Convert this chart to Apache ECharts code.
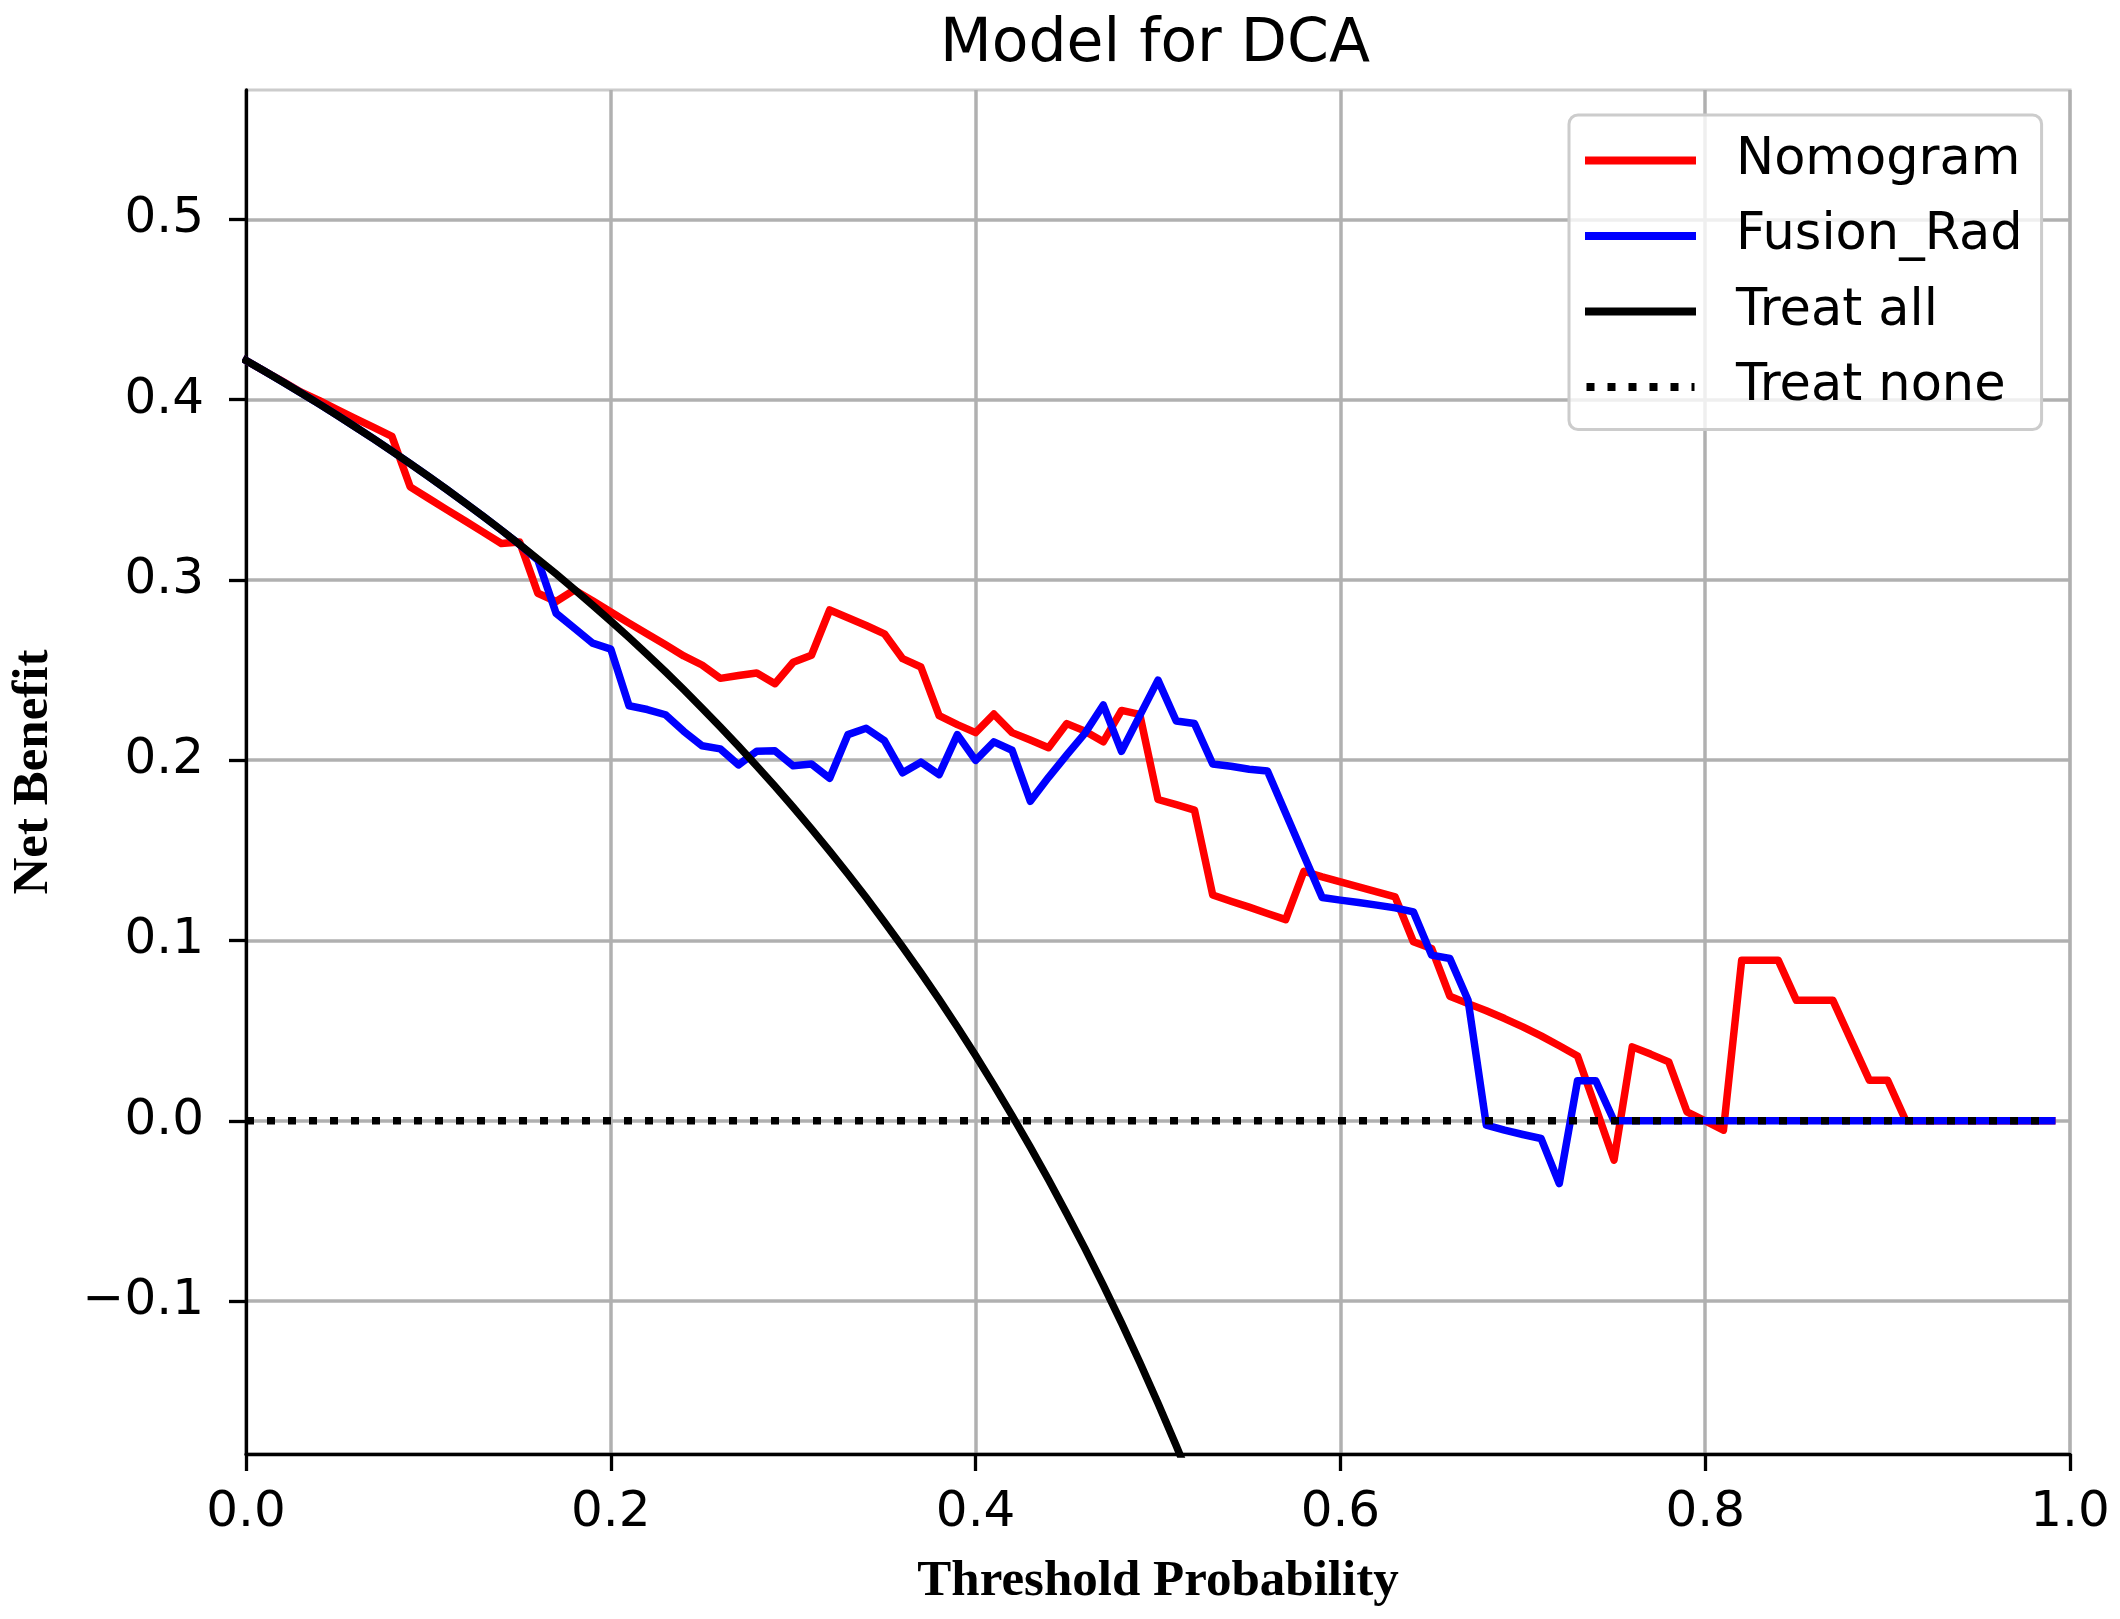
<!DOCTYPE html>
<html>
<head>
<meta charset="utf-8">
<script src="https://cdn.jsdelivr.net/npm/echarts@6/dist/echarts.min.js"></script>
<style>
  html, body { margin: 0; padding: 0; background: #fff; }
  #chart { width: 2120px; height: 1619px; }
</style>
</head>
<body>
<div id="chart"></div>
<script>
var dom = document.getElementById("chart");
var myChart = echarts.init(dom, null, {renderer: 'canvas'});

// threshold probabilities (x)
var thresholds = [
    0.00, 0.01, 0.02, 0.03, 0.04, 0.05, 0.06, 0.07, 0.08, 0.09,
    0.10, 0.11, 0.12, 0.13, 0.14, 0.15, 0.16, 0.17, 0.18, 0.19,
    0.20, 0.21, 0.22, 0.23, 0.24, 0.25, 0.26, 0.27, 0.28, 0.29,
    0.30, 0.31, 0.32, 0.33, 0.34, 0.35, 0.36, 0.37, 0.38, 0.39,
    0.40, 0.41, 0.42, 0.43, 0.44, 0.45, 0.46, 0.47, 0.48, 0.49,
    0.50, 0.51, 0.52, 0.53, 0.54, 0.55, 0.56, 0.57, 0.58, 0.59,
    0.60, 0.61, 0.62, 0.63, 0.64, 0.65, 0.66, 0.67, 0.68, 0.69,
    0.70, 0.71, 0.72, 0.73, 0.74, 0.75, 0.76, 0.77, 0.78, 0.79,
    0.80, 0.81, 0.82, 0.83, 0.84, 0.85, 0.86, 0.87, 0.88, 0.89,
    0.90, 0.91, 0.92, 0.93, 0.94, 0.95, 0.96, 0.97, 0.98, 0.99
];

var nomogram = [
    0.4217, 0.4159, 0.4102, 0.4042, 0.3996, 0.3944, 0.3894, 0.3846, 0.3796, 0.3516,
    0.3453, 0.3390, 0.3328, 0.3265, 0.3202, 0.3210, 0.2926, 0.2880, 0.2944, 0.2885,
    0.2822, 0.2760, 0.2700, 0.2640, 0.2578, 0.2528, 0.2454, 0.2470, 0.2484, 0.2424,
    0.2543, 0.2582, 0.2833, 0.2790, 0.2747, 0.2701, 0.2563, 0.2517, 0.2247, 0.2197,
    0.2153, 0.2256, 0.2153, 0.2112, 0.2069, 0.2203, 0.2161, 0.2102, 0.2276, 0.2254,
    0.1782, 0.1753, 0.1723, 0.1252, 0.1218, 0.1185, 0.1150, 0.1116, 0.1384, 0.1353,
    0.1325, 0.1298, 0.1270, 0.1242, 0.0993, 0.0956, 0.0691, 0.0650, 0.0610, 0.0567,
    0.0521, 0.0471, 0.0416, 0.0359, 0.0072, -0.0218, 0.0410, 0.0370, 0.0327, 0.0050,
    0.0000, -0.0052, 0.0891, 0.0891, 0.0891, 0.0668, 0.0668, 0.0668, 0.0446, 0.0225,
    0.0225, 0, 0, 0, 0, 0, 0, 0, 0, 0
];

var fusionRad = [
    0.4217, 0.4159, 0.4099, 0.4038, 0.3976, 0.3913, 0.3848, 0.3782, 0.3714, 0.3645,
    0.3574, 0.3502, 0.3428, 0.3353, 0.3276, 0.3196, 0.3110, 0.2815, 0.2732, 0.2649,
    0.2616, 0.2302, 0.2281, 0.2252, 0.2160, 0.2080, 0.2063, 0.1974, 0.2049, 0.2052,
    0.1969, 0.1979, 0.1900, 0.2142, 0.2177, 0.2108, 0.1930, 0.1989, 0.1920, 0.2142,
    0.1999, 0.2102, 0.2055, 0.1772, 0.1905, 0.2030, 0.2150, 0.2306, 0.2049, 0.2247,
    0.2444, 0.2217, 0.2203, 0.1979, 0.1966, 0.1950, 0.1940, 0.1706, 0.1472, 0.1238,
    0.1224, 0.1211, 0.1196, 0.1181, 0.1159, 0.0919, 0.0900, 0.0669, -0.0024, -0.0052,
    -0.0076, -0.0098, -0.0348, 0.0222, 0.0222, 0, 0, 0, 0, 0,
    0, 0, 0, 0, 0, 0, 0, 0, 0, 0,
    0, 0, 0, 0, 0, 0, 0, 0, 0, 0
];

// treat all leaves the plot below about 0.51, only the visible part is kept
var treatAll = [
    0.4217, 0.4159, 0.4099, 0.4038, 0.3976, 0.3913, 0.3848, 0.3782, 0.3714, 0.3645,
    0.3574, 0.3502, 0.3428, 0.3353, 0.3276, 0.3196, 0.3115, 0.3033, 0.2948, 0.2860,
    0.2771, 0.2680, 0.2586, 0.2490, 0.2391, 0.2289, 0.2185, 0.2078, 0.1968, 0.1855,
    0.1739, 0.1619, 0.1496, 0.1369, 0.1238, 0.1103, 0.0964, 0.0821, 0.0673, 0.0520,
    0.0362, 0.0198, 0.0029, -0.0146, -0.0327, -0.0515, -0.0709, -0.0911, -0.1121, -0.1339,
    -0.1566, -0.1802, -0.2048, -0.2304, -0.2572
];

var treatNone = [
    0, 0, 0, 0, 0, 0, 0, 0, 0, 0, 0, 0, 0, 0, 0, 0, 0, 0, 0, 0,
    0, 0, 0, 0, 0, 0, 0, 0, 0, 0, 0, 0, 0, 0, 0, 0, 0, 0, 0, 0,
    0, 0, 0, 0, 0, 0, 0, 0, 0, 0, 0, 0, 0, 0, 0, 0, 0, 0, 0, 0,
    0, 0, 0, 0, 0, 0, 0, 0, 0, 0, 0, 0, 0, 0, 0, 0, 0, 0, 0, 0,
    0, 0, 0, 0, 0, 0, 0, 0, 0, 0, 0, 0, 0, 0, 0, 0, 0, 0, 0, 0
];

var xTicks = [0, 0.2, 0.4, 0.6, 0.8, 1.0];
var yTicks = [-0.1, 0, 0.1, 0.2, 0.3, 0.4, 0.5];
var seriesNames = ['Nomogram', 'Fusion_Rad', 'Treat all', 'Treat none'];

function pairs(ys) {
    var out = [];
    for (var i = 0; i < ys.length && i < thresholds.length; i++) {
        out.push([thresholds[i], ys[i]]);
    }
    return out;
}

function fmt(v) {
    return (v < 0 ? '\u2212' : '') + Math.abs(v).toFixed(1);
}

var tickFont = {
    fontFamily: 'DejaVu Sans',
    fontSize: 50,
    color: '#000'
};
var nameFont = {
    fontFamily: 'Liberation Serif',
    fontWeight: 'bold',
    fontSize: 51,
    color: '#000'
};

var lw = 7.5;

option = {
    animation: false,
    backgroundColor: '#fff',
    title: {
        text: 'Model for DCA',
        left: 1155,
        top: 15,
        padding: 0,
        textAlign: 'center',
        textStyle: {
            fontFamily: 'DejaVu Sans',
            fontWeight: 'normal',
            fontSize: 60,
            color: '#000'
        }
    },
    legend: {
        orient: 'vertical',
        left: 1569,
        top: 115,
        padding: [20, 19, 17, 16],
        itemGap: 24.5,
        itemWidth: 111,
        itemHeight: 8,
        backgroundColor: 'rgba(255,255,255,0.8)',
        borderColor: '#cccccc',
        borderWidth: 3,
        borderRadius: 9,
        textStyle: {
            fontFamily: 'DejaVu Sans',
            fontSize: 51,
            lineHeight: 51,
            color: '#000',
            padding: [0, 0, 0, 35]
        },
        data: [
            {name: seriesNames[0], icon: 'rect'},
            {name: seriesNames[1], icon: 'rect'},
            {name: seriesNames[2], icon: 'rect'},
            {name: seriesNames[3], icon: 'path://M0,0h8v8h-8z M21,0h8v8h-8z M42,0h8v8h-8z M63,0h8v8h-8z M84,0h8v8h-8z M105,0h3v8h-3z'}
        ]
    },
    grid: {
        left: 241,
        top: 90,
        width: 1829,
        height: 1364,
        show: true,
        borderColor: '#cccccc',
        borderWidth: 3
    },
    xAxis: {
        type: 'value',
        min: 0,
        max: 1,
        interval: 0.2,
        name: 'Threshold Probability',
        nameLocation: 'middle',
        nameGap: 102,
        nameTextStyle: nameFont,
        axisLine: {onZero: false, lineStyle: {color: '#000', width: 3.3}},
        axisTick: {show: true, length: 17, customValues: xTicks, lineStyle: {color: '#000', width: 3.3}},
        axisLabel: Object.assign({margin: 34, customValues: xTicks, formatter: function (v) { return v.toFixed(1); }}, tickFont),
        splitLine: {show: true, lineStyle: {color: '#b0b0b0', width: 3.5}}
    },
    yAxis: {
        type: 'value',
        min: -0.1848,
        max: 0.5717,
        name: 'Net Benefit',
        nameLocation: 'middle',
        nameGap: 187,
        nameRotate: 90,
        nameTextStyle: nameFont,
        axisLine: {onZero: false, lineStyle: {color: '#000', width: 3.3}},
        axisTick: {show: true, length: 17, customValues: yTicks, lineStyle: {color: '#000', width: 3.3}},
        axisLabel: Object.assign({margin: 42, customValues: yTicks, formatter: fmt}, tickFont),
        splitLine: {show: true, lineStyle: {color: '#b0b0b0', width: 3.5}}
    },
    series: [
        {
            name: seriesNames[0],
            type: 'line',
            symbol: 'none',
            color: '#ff0000',
            lineStyle: {color: '#ff0000', width: lw, join: 'round', cap: 'square'},
            data: pairs(nomogram)
        },
        {
            name: seriesNames[1],
            type: 'line',
            symbol: 'none',
            color: '#0000ff',
            lineStyle: {color: '#0000ff', width: lw, join: 'round', cap: 'square'},
            data: pairs(fusionRad)
        },
        {
            name: seriesNames[2],
            type: 'line',
            symbol: 'none',
            color: '#000000',
            lineStyle: {color: '#000000', width: lw, join: 'round', cap: 'square'},
            data: pairs(treatAll)
        },
        {
            name: seriesNames[3],
            type: 'line',
            symbol: 'none',
            color: '#000000',
            lineStyle: {color: '#000000', width: lw, type: [8, 13], cap: 'butt'},
            data: pairs(treatNone)
        }
    ]
};

if (option && typeof option === "object") {
    myChart.setOption(option, true);
}
</script>
</body>
</html>
